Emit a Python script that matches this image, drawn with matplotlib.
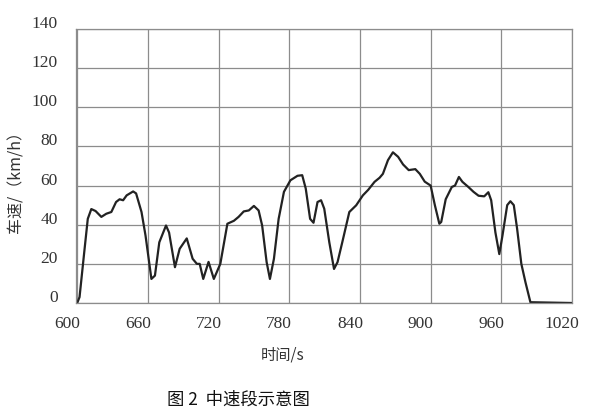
import matplotlib
matplotlib.use("Agg")
import matplotlib.pyplot as plt
from matplotlib.transforms import ScaledTranslation

# data
time_s = [600, 602, 606, 609, 612, 615.6, 620.5, 624.7, 629, 633, 636, 639, 642, 647.5, 650,
          654.6, 658, 663, 666, 669.7, 675.4, 678, 683, 687, 693, 698, 701.6, 704, 707, 711.5,
          716, 721.5, 727.5, 733, 737, 741.4, 745.7, 750, 754, 757, 760.8, 763.6, 767, 771,
          775.5, 781, 787, 791, 794, 797.7, 800.6, 804, 807, 809.7, 814, 818, 821, 825, 831,
          836.8, 842.5, 847, 852.4, 856.7, 859.5, 863.8, 868, 872.4, 876.6, 881.4, 887, 890.8,
          895, 900, 903.6, 907.4, 909, 912.8, 918, 920.7, 924, 927, 932, 936.4, 940.7, 945.5,
          949, 951.4, 955, 958.3, 961, 965, 967.7, 970.6, 973.4, 977, 980.5, 984.7, 1020]
speed_kmh = [0, 3, 26, 43, 48, 47, 44, 45.6, 46.5, 51.6, 53, 52.5, 55, 57, 56,
             46.5, 34.5, 12.3, 14, 31, 39.6, 36, 18.3, 27.7, 33, 22.6, 20, 20, 12.3, 21,
             12.3, 20, 40.5, 42, 44, 46.8, 47.3, 49.6, 47.3, 39.6, 20.9, 12.3, 22.6, 43,
             56.8, 62.7, 65, 65.3, 58.5, 43, 41, 51.6, 52.5, 48.2, 31, 17.4, 20.9, 31, 46.5,
             49.9, 55, 57.8, 61.9, 64, 66, 73, 77, 74.7, 70.8, 67.9, 68.4, 66,
             62, 60, 50, 40.5, 41.4, 53, 59.3, 60, 64.4, 61.9, 59.3, 56.8, 54.8, 54.5,
             56.6, 52.5, 36, 25, 34.5, 50, 52, 50, 38, 20, 10.6, 0.4, 0]
x_ticks = [600, 660, 720, 780, 840, 900, 960, 1020]
y_ticks = [0, 20, 40, 60, 80, 100, 120, 140]
x_title = "时间/s"
y_title = "车速/（km/h）"
caption = "图 2  中速段示意图"

fig = plt.figure(figsize=(5.89, 4.14), dpi=100)
ax = fig.add_axes([76 / 589, 1 - 304 / 414, (572 - 76) / 589, (304 - 30) / 414])

ax.plot(time_s, speed_kmh, color="#222222", linewidth=1.6,
        solid_joinstyle="round", solid_capstyle="round")

ax.set_xlim(599, 1020)
ax.set_ylim(0, 140)
ax.set_xticks(x_ticks)
ax.set_yticks(y_ticks)
ax.grid(True, color="#8c8c8c", linewidth=0.9)
ax.set_axisbelow(True)
for sp in ax.spines.values():
    sp.set_color("#8c8c8c")
    sp.set_linewidth(0.9)
ax.tick_params(length=0, labelcolor="#333333", labelsize=12.5)
ax.tick_params(axis="x", pad=9)
ax.tick_params(axis="y", pad=13)
for lab in ax.get_xticklabels():
    lab.set_fontfamily("Liberation Serif")
    lab.set_transform(lab.get_transform() + ScaledTranslation(-10 / 100, 0, fig.dpi_scale_trans))
for lab in ax.get_yticklabels():
    lab.set_fontfamily("Liberation Serif")
    lab.set_transform(lab.get_transform() + ScaledTranslation(0, 8 / 100, fig.dpi_scale_trans))

cjk = ["Noto Sans CJK SC", "DejaVu Sans"]
fig.text(16 / 589, 1 - 178 / 414, y_title, rotation=90, ha="center", va="center",
         fontsize=11.5, family=cjk, color="#333333")
fig.text(283 / 589, 1 - 355 / 414, x_title, ha="center", va="center",
         fontsize=11, family=cjk, color="#333333")
fig.text(238 / 589, 1 - 400 / 414, caption, ha="center", va="center",
         fontsize=12.5, family=cjk, color="#111111")

fig.savefig("out.png", dpi=100)
